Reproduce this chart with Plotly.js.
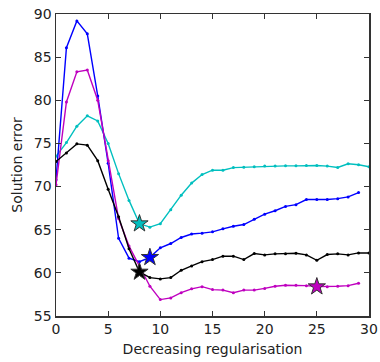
<!DOCTYPE html>
<html>
<head>
<meta charset="utf-8">
<script src="https://cdn.plot.ly/plotly-3.0.1.min.js"></script>
<style>html,body{margin:0;padding:0;background:#fff;}#chart{width:380px;height:362px;}</style>
</head>
<body>
<div id="chart"></div>
<script>
const xBlue = [0,1,2,3,4,5,6,7,8,9,10,11,12,13,14,15,16,17,18,19,20,21,22,23,24,25,26,27,28,29];
const yBlue = [70.8,86.1,89.2,87.7,80.5,72.7,64.0,61.7,61.3,61.8,62.9,63.4,64.1,64.5,64.6,64.75,65.1,65.4,65.6,66.2,66.8,67.2,67.7,67.9,68.5,68.5,68.5,68.6,68.8,69.3];

const xMagenta = [0,1,2,3,4,5,6,7,8,9,10,11,12,13,14,15,16,17,18,19,20,21,22,23,24,25,26,27,28,29];
const yMagenta = [70.2,79.8,83.3,83.5,80.0,73.0,66.3,63.1,60.8,58.45,56.9,57.1,57.7,58.15,58.4,58.06,58.0,57.7,58.0,58.0,58.2,58.45,58.56,58.56,58.52,58.4,58.4,58.45,58.52,58.8];

const xCyan = [0,1,2,3,4,5,6,7,8,9,10,11,12,13,14,15,16,17,18,19,20,21,22,23,24,25,26,27,28,29,30];
const yCyan = [73.5,75.1,77.0,78.2,77.6,75.0,71.5,68.4,65.7,65.3,65.7,67.3,69.0,70.4,71.4,71.9,71.9,72.2,72.25,72.3,72.37,72.37,72.4,72.4,72.45,72.45,72.37,72.22,72.64,72.53,72.3];

const xBlack = [0,1,2,3,4,5,6,7,8,9,10,11,12,13,14,15,16,17,18,19,20,21,22,23,24,25,26,27,28,29,30];
const yBlack = [72.9,73.9,74.95,74.8,73.0,69.7,66.5,62.8,60.1,59.45,59.3,59.45,60.3,60.8,61.3,61.54,61.93,61.93,61.54,62.24,62.08,62.2,62.2,62.27,62.08,61.46,62.12,62.2,62.08,62.31,62.31];

// index of the starred (best) point in each series
const starBlue = 9;
const starMagenta = 25;
const starCyan = 8;
const starBlack = 8;

const cBlue = '#0000ff', cMag = '#bf00bf', cCyan = '#00bfbf', cBlack = '#000000';

function line(x, y, c) {
  return {x: x, y: y, type: 'scatter', mode: 'lines+markers',
    line: {color: c, width: 1.4}, marker: {color: c, size: 3}, hoverinfo: 'skip'};
}
function star(x, y, i, c) {
  return {x: [x[i]], y: [y[i]], type: 'scatter', mode: 'markers',
    marker: {symbol: 'star', size: 13, color: c, line: {color: '#333', width: 1}}, hoverinfo: 'skip'};
}

const data = [
  line(xCyan, yCyan, cCyan),
  line(xBlue, yBlue, cBlue),
  line(xMagenta, yMagenta, cMag),
  line(xBlack, yBlack, cBlack),
  star(xCyan, yCyan, starCyan, cCyan),
  star(xBlue, yBlue, starBlue, cBlue),
  star(xBlack, yBlack, starBlack, cBlack),
  star(xMagenta, yMagenta, starMagenta, cMag)
];

const axisCommon = {
  showgrid: false, zeroline: false, showline: true, linecolor: '#333', linewidth: 1.5,
  mirror: 'ticks', ticks: 'inside', ticklen: 5, tickwidth: 1, tickcolor: '#333',
  tickfont: {family: 'DejaVu Sans', size: 14, color: '#222'}
};

const layout = {
  width: 380, height: 362,
  margin: {l: 56, r: 11, t: 14, b: 46},
  showlegend: false,
  paper_bgcolor: '#fff', plot_bgcolor: '#fff',
  font: {family: 'DejaVu Sans', size: 14, color: '#222'},
  xaxis: Object.assign({}, axisCommon, {range: [0, 30], tick0: 0, dtick: 5,
    title: {text: 'Decreasing regularisation', font: {family: 'DejaVu Sans', size: 14, color: '#222'}, standoff: 8}}),
  yaxis: Object.assign({}, axisCommon, {range: [55, 90], tick0: 55, dtick: 5,
    title: {text: 'Solution error', font: {family: 'DejaVu Sans', size: 14, color: '#222'}, standoff: 8}})
};

Plotly.newPlot('chart', data, layout, {staticPlot: true, displayModeBar: false});
</script>
</body>
</html>
